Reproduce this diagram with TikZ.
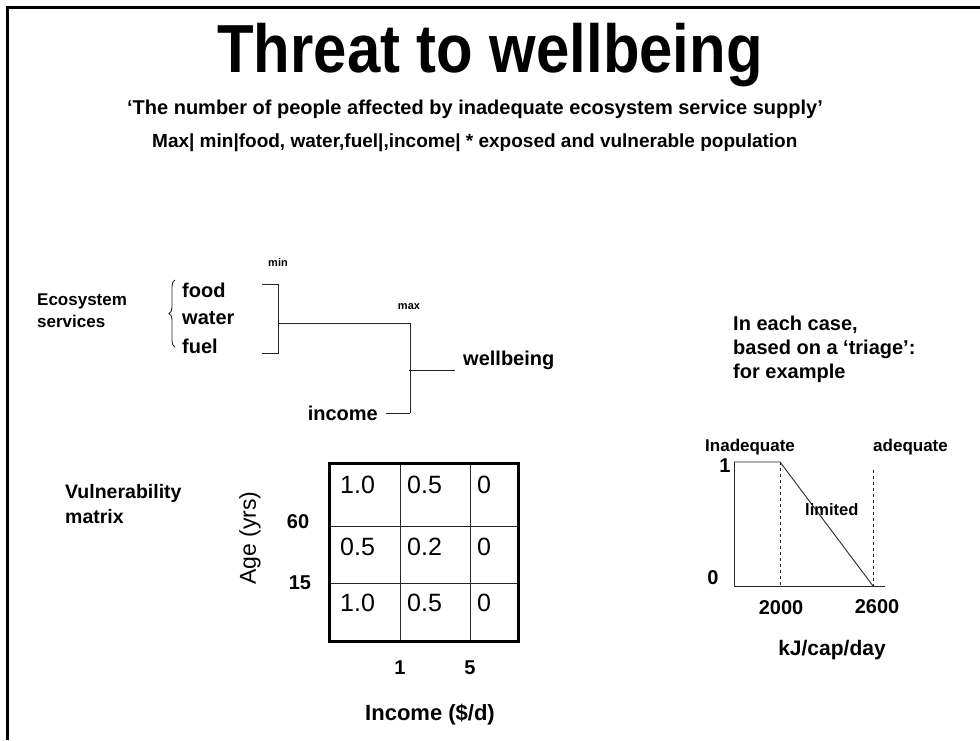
\documentclass[tikz,border=0pt]{standalone}
\usepackage{fontspec}
\setmainfont{Liberation Sans}
\newfontfamily\titlefont{Liberation Sans}[FakeStretch=0.88]
\usetikzlibrary{decorations.pathreplacing}
\newcommand{\fs}[1]{\fontsize{#1}{#1}\selectfont}
\tikzset{
  lbl/.style={inner sep=0pt, font=\bfseries\fs{20}},
  small/.style={inner sep=0pt, font=\bfseries\fs{11}},
  cell/.style={inner sep=0pt, anchor=west, font=\fs{25}},
  thin/.style={line width=0.9pt, black!85},
}
\begin{document}
\begin{tikzpicture}[x=1pt,y=-1pt]
\path[use as bounding box] (0,0) rectangle (980,740);
% frame
\draw[line width=3pt] (7,740) -- (7,7) -- (980,7);
% title
\node[inner sep=0pt, anchor=base, font=\titlefont\bfseries\fs{68}] (title) at (490,72) {Threat to wellbeing};
\node[inner sep=0pt, font=\bfseries\fs{20}] (sub) at (475,109) {‘The number of people affected by inadequate  ecosystem service supply’};
\node[inner sep=0pt, anchor=west, font=\bfseries\fs{19}] (form) at (152,143) {Max| min|food, water,fuel|,income| * exposed and vulnerable population};

% ecosystem services
\node[inner sep=0pt, anchor=west, font=\bfseries\fs{17}, align=left] (eco) at (37,311) {Ecosystem\\[5pt]services};
\draw[thin, decorate, decoration={brace, amplitude=6pt}] (175,347) -- (175,280);
\node[lbl, anchor=west] (food) at (182,290) {food};
\node[lbl, anchor=west] (water) at (182,318) {water};
\node[lbl, anchor=west] (fuel) at (182,346) {fuel};
\node[small] (min) at (278,263) {min};
\coordinate (ft) at (262,284);
\coordinate (fb) at (262,353);
\coordinate (mid) at (278,323);
\coordinate (mx) at (410,323);
\draw[thin] (ft) -- (278,284) -- (278,353) -- (fb);
\draw[thin] (mid) -- (mx) -- (410,413) coordinate (mb);
\node[small] (max) at (409,307) {max};
\node[lbl, anchor=east] (income) at (378,413) {income};
\draw[thin] (income.east) ++(8,0) -- (mb);
\node[lbl, anchor=west] (wb) at (463,360) {wellbeing};
\coordinate (wl) at (409,370);
\draw[thin] (wl) -- (455,370);

% vulnerability matrix
\node[inner sep=0pt, anchor=west, font=\bfseries\fs{19.5}, align=left] (vm) at (65,504) {Vulnerability\\[5pt]matrix};
\draw[thin] (400,463) -- (400,641) (470,463) -- (470,641)
            (329,526) -- (518,526) (329,583) -- (518,583);
\draw[line width=3pt] (329,463) rectangle (518,641);
\node[cell] at (340,485) {1.0};
\node[cell] at (407,485) {0.5};
\node[cell] at (477,485) {0};
\node[cell] at (340,547) {0.5};
\node[cell] at (407,547) {0.2};
\node[cell] at (477,547) {0};
\node[cell] at (340,603) {1.0};
\node[cell] at (407,603) {0.5};
\node[cell] at (477,603) {0};
\node[lbl] (a60) at (298,522) {60};
\node[lbl] (a15) at (300,583) {15};
\node[inner sep=0pt, rotate=90, font=\fs{23}] (age) at (250,538) {Age (yrs)};
\node[lbl] (i1) at (400,668) {1};
\node[lbl] (i5) at (470,668) {5};
\node[lbl, font=\bfseries\fs{22}] (inc) at (430,715) {Income (\$/d)};

% triage
\node[inner sep=0pt, anchor=west, font=\bfseries\fs{20}, align=left] (case) at (733,349) {In each case,\\[4pt]based on a ‘triage’:\\[4pt]for example};
\node[inner sep=0pt, anchor=west, font=\bfseries\fs{17}] (inad) at (705,447) {Inadequate};
\node[inner sep=0pt, anchor=west, font=\bfseries\fs{17}] (ad) at (873,447) {adequate};
\node[lbl] (one) at (725,466) {1};
\node[lbl] (zero) at (713,578) {0};
\coordinate (o) at (734,586);
\coordinate (ytop) at (734,462);
\coordinate (xend) at (885,586);
\coordinate (p1) at (780,462);
\coordinate (p2) at (873,586);
\draw[thin] (ytop) -- (o) -- (xend);
\draw[thin] (ytop) -- (p1) -- (p2);
\draw[thin, dashed] (p1) -- (780,586);
\draw[thin, dashed] (873,470) -- (p2);
\node[inner sep=0pt, anchor=west, font=\bfseries\fs{16.5}] (lim) at (805,510) {limited};
\node[lbl] (t2000) at (781,608) {2000};
\node[lbl] (t2600) at (877,607) {2600};
\node[lbl, font=\bfseries\fs{21}] (kj) at (832,650) {kJ/cap/day};
\end{tikzpicture}
\end{document}
